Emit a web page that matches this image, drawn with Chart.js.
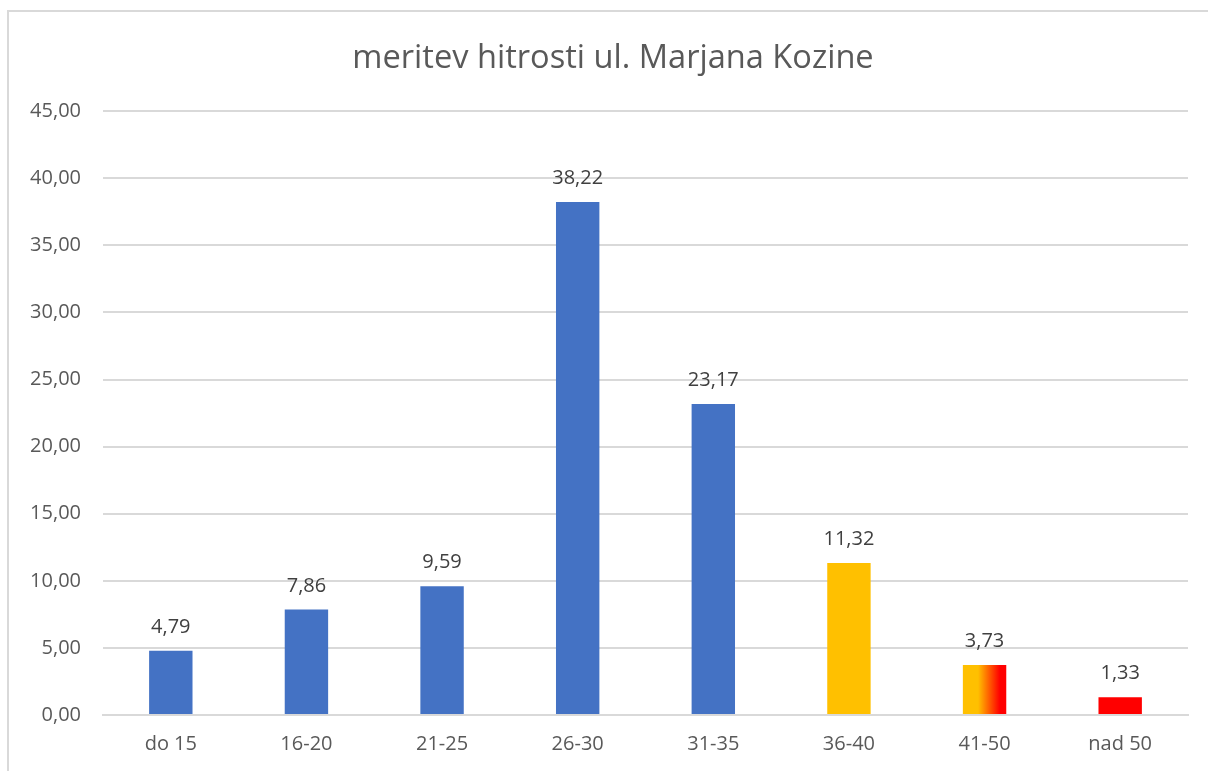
<!DOCTYPE html>
<html>
<head>
<meta charset="utf-8">
<script src="https://cdn.jsdelivr.net/npm/chart.js@4/dist/chart.umd.min.js"></script>
<style>
  html, body { margin: 0; padding: 0; background: #fff; overflow: hidden; }
  #frame { position: absolute; left: 7px; top: 10px; width: 1300px; height: 900px; border: 2px solid #d9d9d9; }
  #wrap { position: absolute; left: 0; top: 0; width: 1208px; height: 771px; }
</style>
</head>
<body>
<div id="frame"></div>
<div id="wrap"><canvas id="speedChart" width="1208" height="771"></canvas></div>
<script>
const naslov = 'meritev hitrosti ul. Marjana Kozine';
const kategorije = ['do 15', '16-20', '21-25', '26-30', '31-35', '36-40', '41-50', 'nad 50'];
const deleži = [4.79, 7.86, 9.59, 38.22, 23.17, 11.32, 3.73, 1.33];
// barva stolpca: modra, rumena, prehod rumena->rdeča, rdeča
const vrsteBarv = ['modra', 'modra', 'modra', 'modra', 'modra', 'rumena', 'prehod', 'rdeca'];

const MODRA = '#4472c4';
const RUMENA = '#ffc000';
const RDECA = '#ff0000';

const fmt = v => v.toFixed(2).replace('.', ',');

function osnovnaBarva(i) {
  const vrsta = vrsteBarv[i];
  if (vrsta === 'modra') return MODRA;
  if (vrsta === 'rdeca') return RDECA;
  return RUMENA;
}

// prehod barve za stolpce tipa 'prehod' (ko so stolpci že postavljeni)
const prehodPlugin = {
  id: 'prehod',
  beforeDatasetsDraw(chart) {
    const meta = chart.getDatasetMeta(0);
    meta.data.forEach((bar, i) => {
      if (vrsteBarv[i] !== 'prehod') return;
      const x0 = bar.x - bar.width / 2;
      const x1 = bar.x + bar.width / 2;
      const g = chart.ctx.createLinearGradient(x0, 0, x1, 0);
      g.addColorStop(0, RUMENA);
      g.addColorStop(0.35, RUMENA);
      g.addColorStop(0.85, RDECA);
      g.addColorStop(1, RDECA);
      bar.options.backgroundColor = g;
    });
  }
};

// oznake vrednosti nad stolpci
const oznakePlugin = {
  id: 'oznake',
  afterDatasetsDraw(chart) {
    const c = chart.ctx;
    const meta = chart.getDatasetMeta(0);
    c.save();
    c.font = '20px "Open Sans"';
    c.fillStyle = '#404040';
    c.textAlign = 'center';
    c.textBaseline = 'alphabetic';
    meta.data.forEach((bar, i) => {
      c.fillText(fmt(deleži[i]), bar.x, bar.y - 18);
    });
    c.restore();
  }
};

function initChart() {
  const ctx = document.getElementById('speedChart').getContext('2d');
  new Chart(ctx, {
    type: 'bar',
    data: {
      labels: kategorije,
      datasets: [{
        data: deleži,
        backgroundColor: c => osnovnaBarva(c.dataIndex),
        borderWidth: 0,
        categoryPercentage: 1,
        barPercentage: 0.32
      }]
    },
    options: {
      responsive: false,
      animation: false,
      layout: { padding: { left: 18, right: 0, top: 0, bottom: 0 } },
      plugins: {
        legend: { display: false },
        tooltip: { enabled: false },
        title: {
          display: true,
          text: naslov,
          color: '#595959',
          font: { family: 'Open Sans', size: 32.6, weight: 'normal' },
          padding: { top: 39, bottom: 33 }
        }
      },
      scales: {
        x: {
          grid: { display: false, drawTicks: false },
          border: { color: '#d9d9d9', width: 2 },
          ticks: { color: '#595959', font: { family: 'Open Sans', size: 20 }, padding: 17 },
          afterFit: s => { s.height = 56; }
        },
        y: {
          min: 0,
          max: 45,
          ticks: {
            stepSize: 5,
            color: '#595959',
            font: { family: 'Open Sans', size: 20 },
            padding: 22,
            callback: v => fmt(v)
          },
          grid: { color: '#d9d9d9', lineWidth: 2, drawTicks: false },
          border: { display: false },
          afterFit: s => { s.width = 85; }
        },
        // prazen prostor desno od risalne površine
        desno: {
          position: 'right',
          min: 0,
          max: 45,
          ticks: { display: false },
          grid: { display: false, drawTicks: false },
          border: { display: false },
          afterFit: s => { s.width = 20; }
        }
      }
    },
    plugins: [prehodPlugin, oznakePlugin]
  });
}

document.addEventListener('DOMContentLoaded', initChart);
</script>
</body>
</html>
